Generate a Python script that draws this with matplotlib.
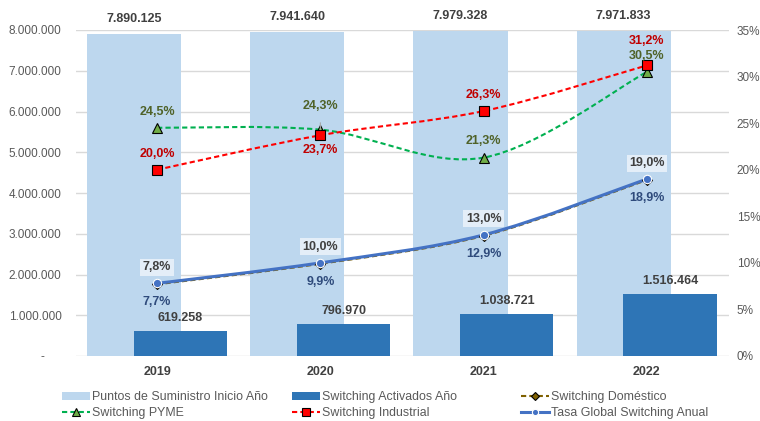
import numpy as np
import matplotlib
matplotlib.use("Agg")
import matplotlib.pyplot as plt
from matplotlib.path import Path
from matplotlib.patches import PathPatch, Patch
from matplotlib.lines import Line2D
from matplotlib.ticker import FuncFormatter, MultipleLocator

plt.rcParams["font.family"] = ["Liberation Sans", "DejaVu Sans"]

# datos
years = ["2019", "2020", "2021", "2022"]
puntos = [7890125, 7941640, 7979328, 7971833]
activados = [619258, 796970, 1038721, 1516464]
domestico = [7.7, 9.9, 12.9, 18.9]
pyme = [24.5, 24.3, 21.3, 30.5]
industrial = [20.0, 23.7, 26.3, 31.2]
tasa_global = [7.8, 10.0, 13.0, 19.0]

C_LIGHT = "#BDD7EE"
C_DARK = "#2E75B6"
C_DOM = "#7F6000"
C_PYME = "#00B050"
C_IND = "#FF0000"
C_GLOB = "#4472C4"
GRAY = "#595959"
TXT = "#404040"


def fmt_num(v):
    return f"{v:,}".replace(",", ".")


def fmt_pct(v):
    return f"{v:.1f}%".replace(".", ",")


def smooth_path(xs, ys):
    # curva suavizada tipo Excel (Bezier Catmull-Rom)
    pts = np.column_stack([xs, ys]).astype(float)
    n = len(pts)
    verts = [pts[0]]
    codes = [Path.MOVETO]
    for i in range(n - 1):
        p0 = pts[max(i - 1, 0)]
        p1 = pts[i]
        p2 = pts[i + 1]
        p3 = pts[min(i + 2, n - 1)]
        verts += [p1 + (p2 - p0) / 6, p2 - (p3 - p1) / 6, p2]
        codes += [Path.CURVE4] * 3
    return Path(verts, codes)


fig = plt.figure(figsize=(7.6, 4.21), dpi=100)
ax = fig.add_axes([75.5 / 760, 1 - 356 / 421, 653 / 760, 326 / 421])
ax2 = ax.twinx()

x = np.arange(len(years))
off = 0.142
ax.bar(x - off, puntos, width=0.578, color=C_LIGHT, zorder=2)
ax.bar(x + off, activados, width=0.572, color=C_DARK, zorder=3)

ax.set_xlim(-0.5, 3.5)
ax.set_ylim(0, 8000000)
ax.yaxis.set_major_locator(MultipleLocator(1000000))
ax.yaxis.set_major_formatter(FuncFormatter(lambda v, p: "-     " if v == 0 else fmt_num(int(v))))
ax.grid(axis="y", color="#D9D9D9", lw=1, zorder=0)
ax.set_axisbelow(True)
for sp in ax.spines.values():
    sp.set_visible(False)
for sp in ax2.spines.values():
    sp.set_visible(False)
ax.set_xticks(x)
ax.set_xticklabels(years, fontweight="bold", color=TXT, fontsize=9)
ax.tick_params(axis="x", length=0, pad=7)
ax.tick_params(axis="y", length=0, pad=10, labelsize=8.5, labelcolor=GRAY)

ax2.set_ylim(0, 35)
ax2.yaxis.set_major_locator(MultipleLocator(5))
ax2.yaxis.set_major_formatter(FuncFormatter(lambda v, p: f"{v:.0f}%"))
ax2.tick_params(axis="y", length=0, pad=6, labelsize=8.5, labelcolor=GRAY)

# etiquetas de barras
for xi, v in zip(x, puntos):
    ax.annotate(fmt_num(v), (xi - off, v), xytext=(0, 15), textcoords="offset pixels",
                ha="center", va="center", fontsize=9, fontweight="bold", color=TXT,
                bbox=dict(boxstyle="square,pad=0.15", fc="white", ec="none"), zorder=5)
for xi, v in zip(x, activados):
    ax.annotate(fmt_num(v), (xi + off, v), xytext=(0, 13), textcoords="offset pixels",
                ha="center", va="center", fontsize=9, fontweight="bold", color=TXT, zorder=5)

# lineas suavizadas
series = [
    (domestico, C_DOM, (0, (2.5, 1.5)), 1.5, "D", C_DOM, "black", 5),
    (pyme, C_PYME, (0, (2.5, 1.5)), 1.5, "^", "#70AD47", "black", 7),
    (industrial, C_IND, (0, (2.5, 1.5)), 1.5, "s", C_IND, "black", 6.5),
    (tasa_global, C_GLOB, "-", 2.2, "o", C_GLOB, "white", 6),
]
for vals, col, ls, lw, mk, mfc, mec, ms in series:
    ax2.add_patch(PathPatch(smooth_path(x, vals), fill=False, ec=col, lw=lw, ls=ls,
                            capstyle="butt", zorder=3))
    ax2.plot(x, vals, ls="none", marker=mk, ms=ms, mfc=mfc, mec=mec, mew=0.8, zorder=4)

# etiquetas de porcentajes (desplazamiento en pixeles)
pyme_off = [16, 24, 17, 16]
ind_off = [16, -15, 16, 24]
for i in range(len(years)):
    ax2.annotate(fmt_pct(tasa_global[i]), (x[i], tasa_global[i]), xytext=(0, 16),
                 textcoords="offset pixels", ha="center", va="center", fontsize=9,
                 fontweight="bold", color=TXT, zorder=6,
                 bbox=dict(boxstyle="square,pad=0.2", fc="white", ec="none", alpha=0.6))
    ax2.annotate(fmt_pct(domestico[i]), (x[i], domestico[i]), xytext=(0, -18),
                 textcoords="offset pixels", ha="center", va="center", fontsize=9,
                 fontweight="bold", color="#2F4B7C", zorder=6)
    ax2.annotate(fmt_pct(industrial[i]), (x[i], industrial[i]), xytext=(0, ind_off[i]),
                 textcoords="offset pixels", ha="center", va="center", fontsize=9,
                 fontweight="bold", color="#C00000", zorder=6)
    kw = {}
    if i == 1:
        kw = dict(arrowprops=dict(arrowstyle="-", color="#A6A6A6", lw=0.8, shrinkA=6, shrinkB=5))
    ax2.annotate(fmt_pct(pyme[i]), (x[i], pyme[i]), xytext=(0, pyme_off[i]),
                 textcoords="offset pixels", ha="center", va="center", fontsize=9,
                 fontweight="bold", color="#4F6228", zorder=6, **kw)

# leyenda en tres columnas de igual ancho
dash = (0, (2.5, 1.5))
cols = [
    [Patch(fc=C_LIGHT, label="Puntos de Suministro Inicio Año"),
     Line2D([], [], color=C_PYME, ls=dash, lw=1.5, marker="^", ms=6, mfc="#70AD47", mec="black",
            mew=0.8, label="Switching PYME")],
    [Patch(fc=C_DARK, label="Switching Activados Año"),
     Line2D([], [], color=C_IND, ls=dash, lw=1.5, marker="s", ms=6, mfc=C_IND, mec="black",
            mew=0.8, label="Switching Industrial")],
    [Line2D([], [], color=C_DOM, ls=dash, lw=1.5, marker="D", ms=4.5, mfc=C_DOM, mec="black",
            mew=0.8, label="Switching Doméstico"),
     Line2D([], [], color=C_GLOB, ls="-", lw=2.2, marker="o", ms=4.5, mfc=C_GLOB, mec="white",
            mew=0.8, label="Tasa Global Switching Anual")],
]
for xpos, handles in zip([62, 292, 521], cols):
    fig.legend(handles=handles, loc="upper left", bbox_to_anchor=(xpos / 760, 1 - 391 / 421),
               frameon=False, fontsize=8.9, handlelength=2.25, handleheight=0.6,
               handletextpad=0.2, borderpad=0, borderaxespad=0, labelspacing=0.3,
               labelcolor=GRAY)

fig.savefig("out.png", dpi=100)
